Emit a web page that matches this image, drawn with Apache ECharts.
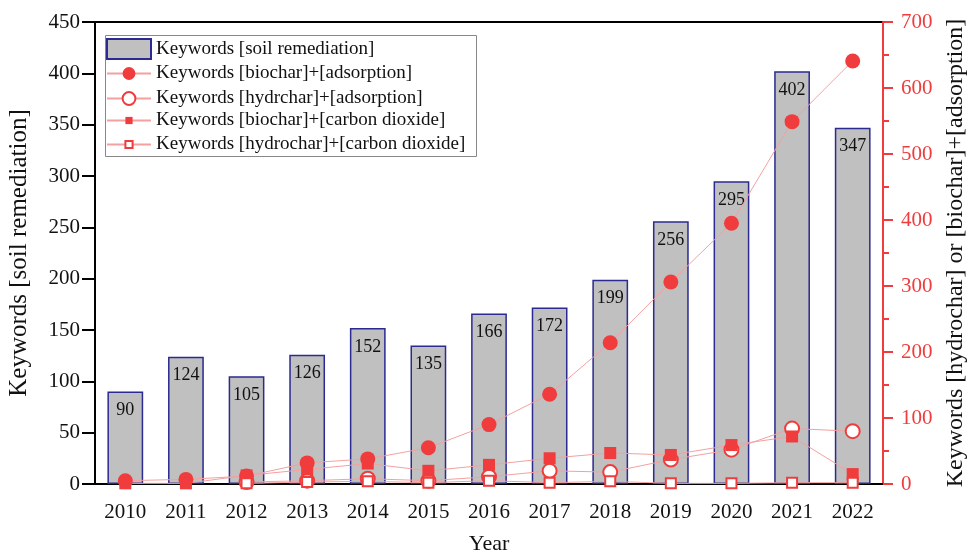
<!DOCTYPE html>
<html><head><meta charset="utf-8">
<script src="https://cdn.jsdelivr.net/npm/echarts@6/dist/echarts.min.js"></script>
<style>html,body{margin:0;padding:0;background:#fff}#c{width:969px;height:551px}</style>
</head><body><div id="c"></div>
<script>
const years = ['2010','2011','2012','2013','2014','2015','2016','2017','2018','2019','2020','2021','2022'];
const soilRemediation = [90,124,105,126,152,135,166,172,199,256,295,402,347];
const biocharAdsorption = [5,7,12,32,38,55,90,136,214,306,395,549,641];
const hydrocharAdsorption = [null,null,3,5,8,5,11,20,18,37,52,84,80];
const biocharCO2 = [1,1,13,22,31,20,29,39,47,44,59,72,15];
const hydrocharCO2 = [null,null,1,3,4,2,5,2,4,1,1,2,2];
const leftTicks = {min:0,max:450,interval:50};
const rightTicks = {min:0,max:700,interval:100};
const names = ['Keywords [soil remediation]','Keywords [biochar]+[adsorption]','Keywords [hydrchar]+[adsorption]','Keywords [biochar]+[carbon dioxide]','Keywords [hydrochar]+[carbon dioxide]'];

const FONT = '"Liberation Serif","Times New Roman",serif';
const RED = '#f03c3c';
const PINK = '#f4a0a0';
const chart = echarts.init(document.getElementById('c'));
const lineBase = (name, data, symbol, size, filled) => ({
  name, type:'line', yAxisIndex:1, data,
  symbol, symbolSize:size, showAllSymbol:true,
  lineStyle:{color:PINK, width:1},
  itemStyle:{color: filled ? RED : '#ffffff', borderColor:RED, borderWidth: filled ? 0 : 2},
  emphasis:{disabled:true}, z:3
});
const legendText = {fontFamily:FONT, fontSize:19, color:'#111', lineHeight:21};
const legendCommon = {orient:'vertical', left:106, padding:0, itemWidth:44, textStyle:legendText, selectedMode:false, z:5};
chart.setOption({
  animation:false,
  textStyle:{fontFamily:FONT},
  grid:{left:95,right:86,top:22,bottom:67,show:true,borderColor:'#000',borderWidth:2,backgroundColor:'transparent',outerBoundsMode:'none',containLabel:false},
  graphic:[{type:'rect', left:105, top:35, z:4, shape:{width:371, height:121}, style:{fill:'#fff', stroke:'#888', lineWidth:1}}],
  legend:[
    Object.assign({}, legendCommon, {top:38, itemHeight:20, data:[{name:names[0], icon:'rect'}]}),
    Object.assign({}, legendCommon, {top:63, itemHeight:16, itemGap:4, data:[names[1], names[2]]}),
    Object.assign({}, legendCommon, {top:110, itemHeight:9, itemGap:3, data:[names[3], names[4]]})
  ],
  xAxis:{
    type:'category', data:years,
    name:'Year', nameLocation:'middle', nameGap:49,
    nameTextStyle:{fontFamily:FONT, fontSize:22, color:'#111'},
    axisLine:{lineStyle:{color:'#000', width:2}},
    axisTick:{alignWithLabel:true, length:10, lineStyle:{color:'#000', width:2}},
    axisLabel:{fontFamily:FONT, fontSize:21, color:'#111', margin:18}
  },
  yAxis:[{
    type:'value', min:leftTicks.min, max:leftTicks.max, interval:leftTicks.interval,
    name:names[0], nameLocation:'middle', nameGap:63, nameRotate:90,
    nameTextStyle:{fontFamily:FONT, fontSize:25, color:'#111'},
    axisLine:{show:true, lineStyle:{color:'#000', width:2}},
    axisTick:{show:true, length:13, lineStyle:{color:'#000', width:2}},
    axisLabel:{fontFamily:FONT, fontSize:21, color:'#111', margin:15},
    splitLine:{show:false}
  },{
    type:'value', position:'right', min:rightTicks.min, max:rightTicks.max, interval:rightTicks.interval,
    name:'Keywords [hydrochar] or [biochar]+[adsorption]', nameLocation:'middle', nameGap:53, nameRotate:90,
    nameTextStyle:{fontFamily:FONT, fontSize:24, color:'#111'},
    axisLine:{show:true, lineStyle:{color:RED, width:2}},
    axisTick:{show:true, length:10, lineStyle:{color:RED, width:2}},
    minorTick:{show:true, splitNumber:2, length:6, lineStyle:{color:RED, width:2}},
    axisLabel:{fontFamily:FONT, fontSize:21, color:RED, margin:18},
    splitLine:{show:false}, minorSplitLine:{show:false}
  }],
  series:[
    {name:names[0], type:'bar', data:soilRemediation, barWidth:'59%',
     itemStyle:{color:'#c0c0c0', borderColor:'#2a2a90', borderWidth:1.5},
     label:{show:true, position:'insideTop', distance:10, fontFamily:FONT, fontSize:18, color:'#111'},
     emphasis:{disabled:true}, z:2},
    lineBase(names[1], biocharAdsorption, 'circle', 15, true),
    lineBase(names[2], hydrocharAdsorption, 'circle', 14, false),
    lineBase(names[3], biocharCO2, 'rect', 12, true),
    lineBase(names[4], hydrocharCO2, 'rect', 10, false)
  ]
});
</script></body></html>
